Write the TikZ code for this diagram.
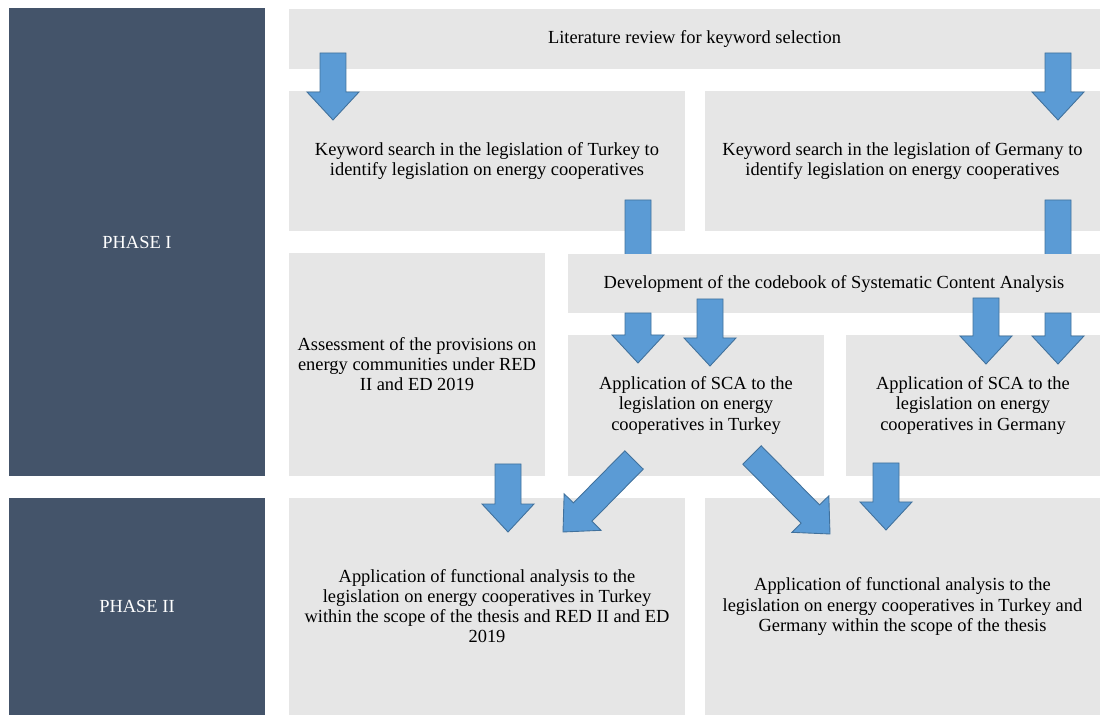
\documentclass[tikz,border=0pt]{standalone}
\usepackage{fontspec}
\setmainfont{Liberation Serif}
\usetikzlibrary{calc}
\definecolor{phaseblue}{HTML}{44546A}
\definecolor{boxgray}{HTML}{E6E6E6}
\definecolor{arrfill}{HTML}{5B9BD5}
\definecolor{arrline}{HTML}{41719C}
\tikzset{
  phasebox/.style = {fill=phaseblue, text=white, inner sep=0pt},
  graybox/.style = {fill=boxgray, align=center, inner sep=0pt},
  sz/.style 2 args = {minimum width=#1*0.02cm, minimum height=#2*0.02cm},
  blockarr/.style = {fill=arrfill, draw=arrline, line width=0.5pt, line join=miter}
}
% block arrow from coordinate #1 (tail) to coordinate #2 (tip)
\newcommand\blockarrow[2]{%
  \coordinate (#2-neck) at ($(#2)!0.56cm!(#1)$);
  \draw[blockarr] ($(#1)!0.26cm!90:(#2)$) -- ($(#2-neck)!0.26cm!90:(#2)$)
    -- ($(#2-neck)!0.52cm!90:(#2)$) -- (#2)
    -- ($(#2-neck)!0.52cm!-90:(#2)$) -- ($(#2-neck)!0.26cm!-90:(#2)$)
    -- ($(#1)!0.26cm!-90:(#2)$) -- cycle;
}

\begin{document}
\begin{tikzpicture}[x=0.02cm,y=-0.02cm,font=\fontsize{10.5}{11.4}\selectfont]
  \useasboundingbox (0,0) rectangle (1100,715);
  % phases
  \node[phasebox,sz={256}{468}] (ph1) at (137,242) {PHASE I};
  \node[phasebox,sz={256}{217}] (ph2) at (137,606.5) {PHASE II};
  % phase I boxes
  \node[graybox,sz={811}{60}] (litrev) at (694.5,39) {Literature review for keyword selection};
  \node[graybox,sz={396}{140}] (kwtr) at (487,161)
    {Keyword search in the legislation of Turkey to\\identify legislation on energy cooperatives};
  \node[graybox,sz={395}{140}] (kwde) at (902.5,161)
    {Keyword search in the legislation of Germany to\\identify legislation on energy cooperatives};
  \node[graybox,sz={256}{223}] (assess) at (417,364.5)
    {Assessment of the provisions on\\energy communities under RED\\II and ED 2019};
  \node[graybox,sz={256}{141}] (scatr) at (696,405.5)
    {Application of SCA to the\\legislation on energy\\cooperatives in Turkey};
  \node[graybox,sz={254}{141}] (scade) at (973,405.5)
    {Application of SCA to the\\legislation on energy\\cooperatives in Germany};
  % phase II boxes
  \node[graybox,sz={396}{217}] (fatr) at (487,606.5)
    {Application of functional analysis to the\\legislation on energy cooperatives in Turkey\\within the scope of the thesis and RED II and ED\\2019};
  \node[graybox,sz={395}{217}] (fade) at (902.5,606.5)
    {Application of functional analysis to the\\legislation on energy cooperatives in Turkey and\\Germany within the scope of the thesis};
  % arrow ends
  \coordinate (litL) at (333,53);    \coordinate (kwtrN) at (333,120);
  \coordinate (litR) at (1058,53);   \coordinate (kwdeN) at (1058,120);
  \coordinate (kwtrS) at (638,200);  \coordinate (cbL) at (638,285);
  \coordinate (kwdeS) at (1058,200); \coordinate (cbR) at (1058,285);
  \coordinate (cb1) at (638,313);    \coordinate (scatr1) at (638,363);
  \coordinate (cb2) at (710,299);    \coordinate (scatr2) at (710,366);
  \coordinate (cb3) at (986,298);    \coordinate (scade1) at (986,364);
  \coordinate (cb4) at (1058,313);   \coordinate (scade2) at (1058,364);
  \coordinate (assessS) at (508,464); \coordinate (fatr1) at (508,532);
  \coordinate (scatrA) at (634,460); \coordinate (fatr2) at (563,532);
  \coordinate (scatrB) at (752,455); \coordinate (fade1) at (830,534);
  \coordinate (scadeS) at (886,463); \coordinate (fade2) at (886,530);
  % arrows
  \blockarrow{litL}{kwtrN}
  \blockarrow{litR}{kwdeN}
  \blockarrow{kwtrS}{cbL}
  \blockarrow{kwdeS}{cbR}
  \node[graybox,sz={532}{59}] (codebook) at (834,284)
    {Development of the codebook of Systematic Content Analysis};
  \blockarrow{cb1}{scatr1}
  \blockarrow{cb2}{scatr2}
  \blockarrow{cb3}{scade1}
  \blockarrow{cb4}{scade2}
  \blockarrow{assessS}{fatr1}
  \blockarrow{scatrA}{fatr2}
  \blockarrow{scatrB}{fade1}
  \blockarrow{scadeS}{fade2}
\end{tikzpicture}
\end{document}
